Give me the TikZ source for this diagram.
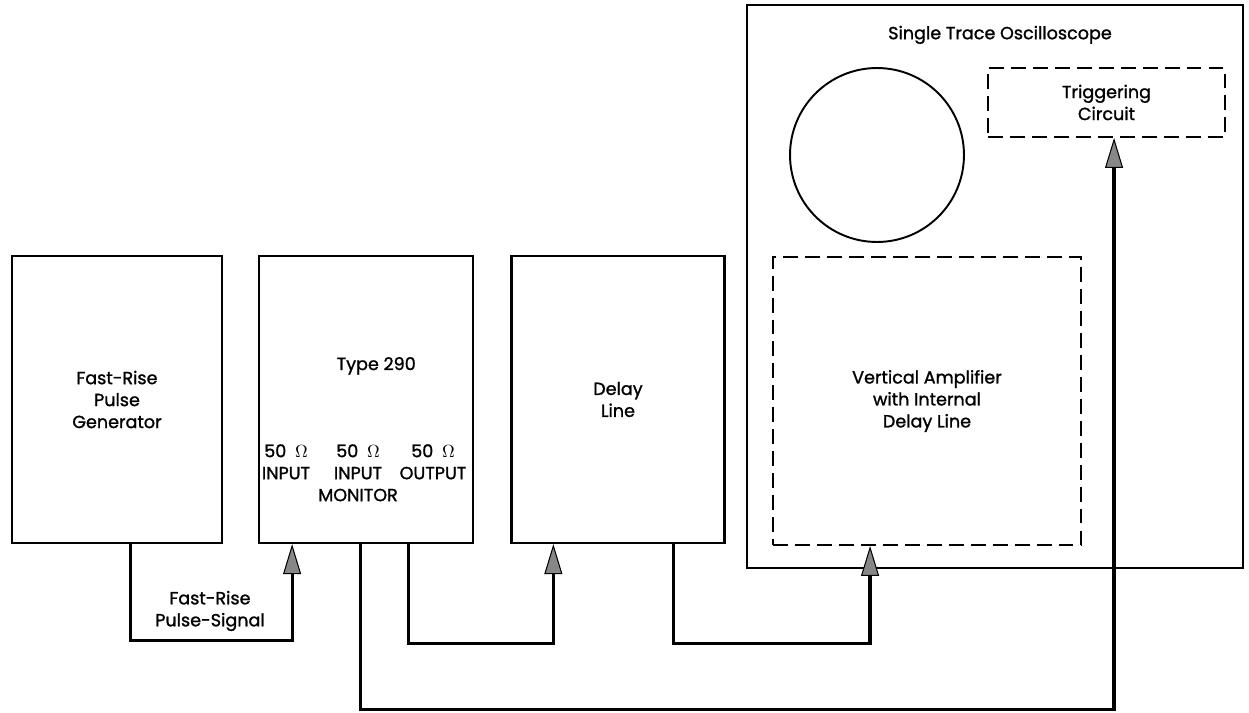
\documentclass[tikz,border=0pt]{standalone}
\usepackage{fontspec}
\setmainfont{Poppins}[FakeBold=1.3]
\usetikzlibrary{positioning,arrows.meta,calc}
\definecolor{tipgray}{RGB}{135,135,135}
\newcommand{\unitfont}{\fontsize{10}{12.5}\selectfont}

\begin{document}
\begin{tikzpicture}[x=0.02cm, y=-0.02cm,
   unit/.style={draw, line width=1.3pt, minimum width=4.26cm, minimum height=5.74cm,
                align=center, font=\unitfont, inner sep=0pt},
   sub/.style={draw, line width=1.1pt, dash pattern=on 8.5pt off 4pt,
               align=center, font=\unitfont, inner sep=0pt},
   txt/.style={align=center, font=\unitfont, inner sep=0pt},
   sig/.style={line width=1.8pt,
               -{Triangle[length=0.6cm, width=0.36cm, fill=tipgray, line width=0.6pt]}}]
  \useasboundingbox (0,0) rectangle (1249,713);
  % instruments
  \node[unit, minimum width=4.2cm] (gen) at (117,399.5) {Fast-Rise\\Pulse\\Generator};
  \node[unit, minimum width=4.28cm, right=0.70cm of gen] (tp) {};
  \node[unit, right=0.72cm of tp] (dly) {Delay\\Line};
  \node[draw, line width=1.3pt, minimum width=9.92cm, minimum height=11.26cm,
        inner sep=0pt] (scope) at (995,286.5) {};
  \node[txt] (ttl) at ($(scope.north)+(5,31)$) {Single Trace Oscilloscope};
  \node[draw, circle, line width=1.1pt, minimum size=3.48cm, inner sep=0pt] (crt) at (877,155) {};
  \node[sub, minimum width=4.74cm, minimum height=1.38cm] (trig) at (1106.5,102.5) {Triggering\\Circuit};
  \node[sub, minimum width=6.16cm, minimum height=5.76cm] (vamp) at (927,401)
       {Vertical Amplifier\\with Internal\\Delay Line};
  % Type 290 front panel
  \node[txt] (tpname) at ($(tp.north)+(10,111)$) {Type 290};
  \node[txt, anchor=north] (pin) at (286,444) {50\enspace$\Omega$\\INPUT};
  \node[txt, anchor=north] (pmon) at (358,444) {50\enspace$\Omega$\\INPUT\\MONITOR};
  \node[txt, anchor=north] (pout) at (433,444) {50\enspace$\Omega$\\OUTPUT};
  % connector points
  \coordinate (gout) at ($(gen.south west)+(120,0)$);
  \coordinate (tpin) at ($(tp.south west)+(34,0)$);
  \coordinate (tpmon) at ($(tp.south west)+(102,0)$);
  \coordinate (tpout) at ($(tp.south west)+(150,0)$);
  \coordinate (dlyin) at ($(dly.south west)+(43,0)$);
  \coordinate (dlyout) at ($(dly.south west)+(163,0)$);
  \coordinate (vampin) at ($(vamp.south west)+(98,0)$);
  \coordinate (trigin) at ($(trig.south west)+(127,0)$);
  % cables
  \draw[sig] (gout) -- ++(0,96) -| (tpin);
  \node[txt] (sigtxt) at (210,611) {Fast-Rise\\Pulse-Signal};
  \draw[sig] (tpout) -- ++(0,99) -| (dlyin);
  \draw[sig] (dlyout) -- ++(0,99) -| (vampin);
  \draw[sig] (tpmon) -- ++(0,165) -| (trigin);
\end{tikzpicture}
\end{document}
